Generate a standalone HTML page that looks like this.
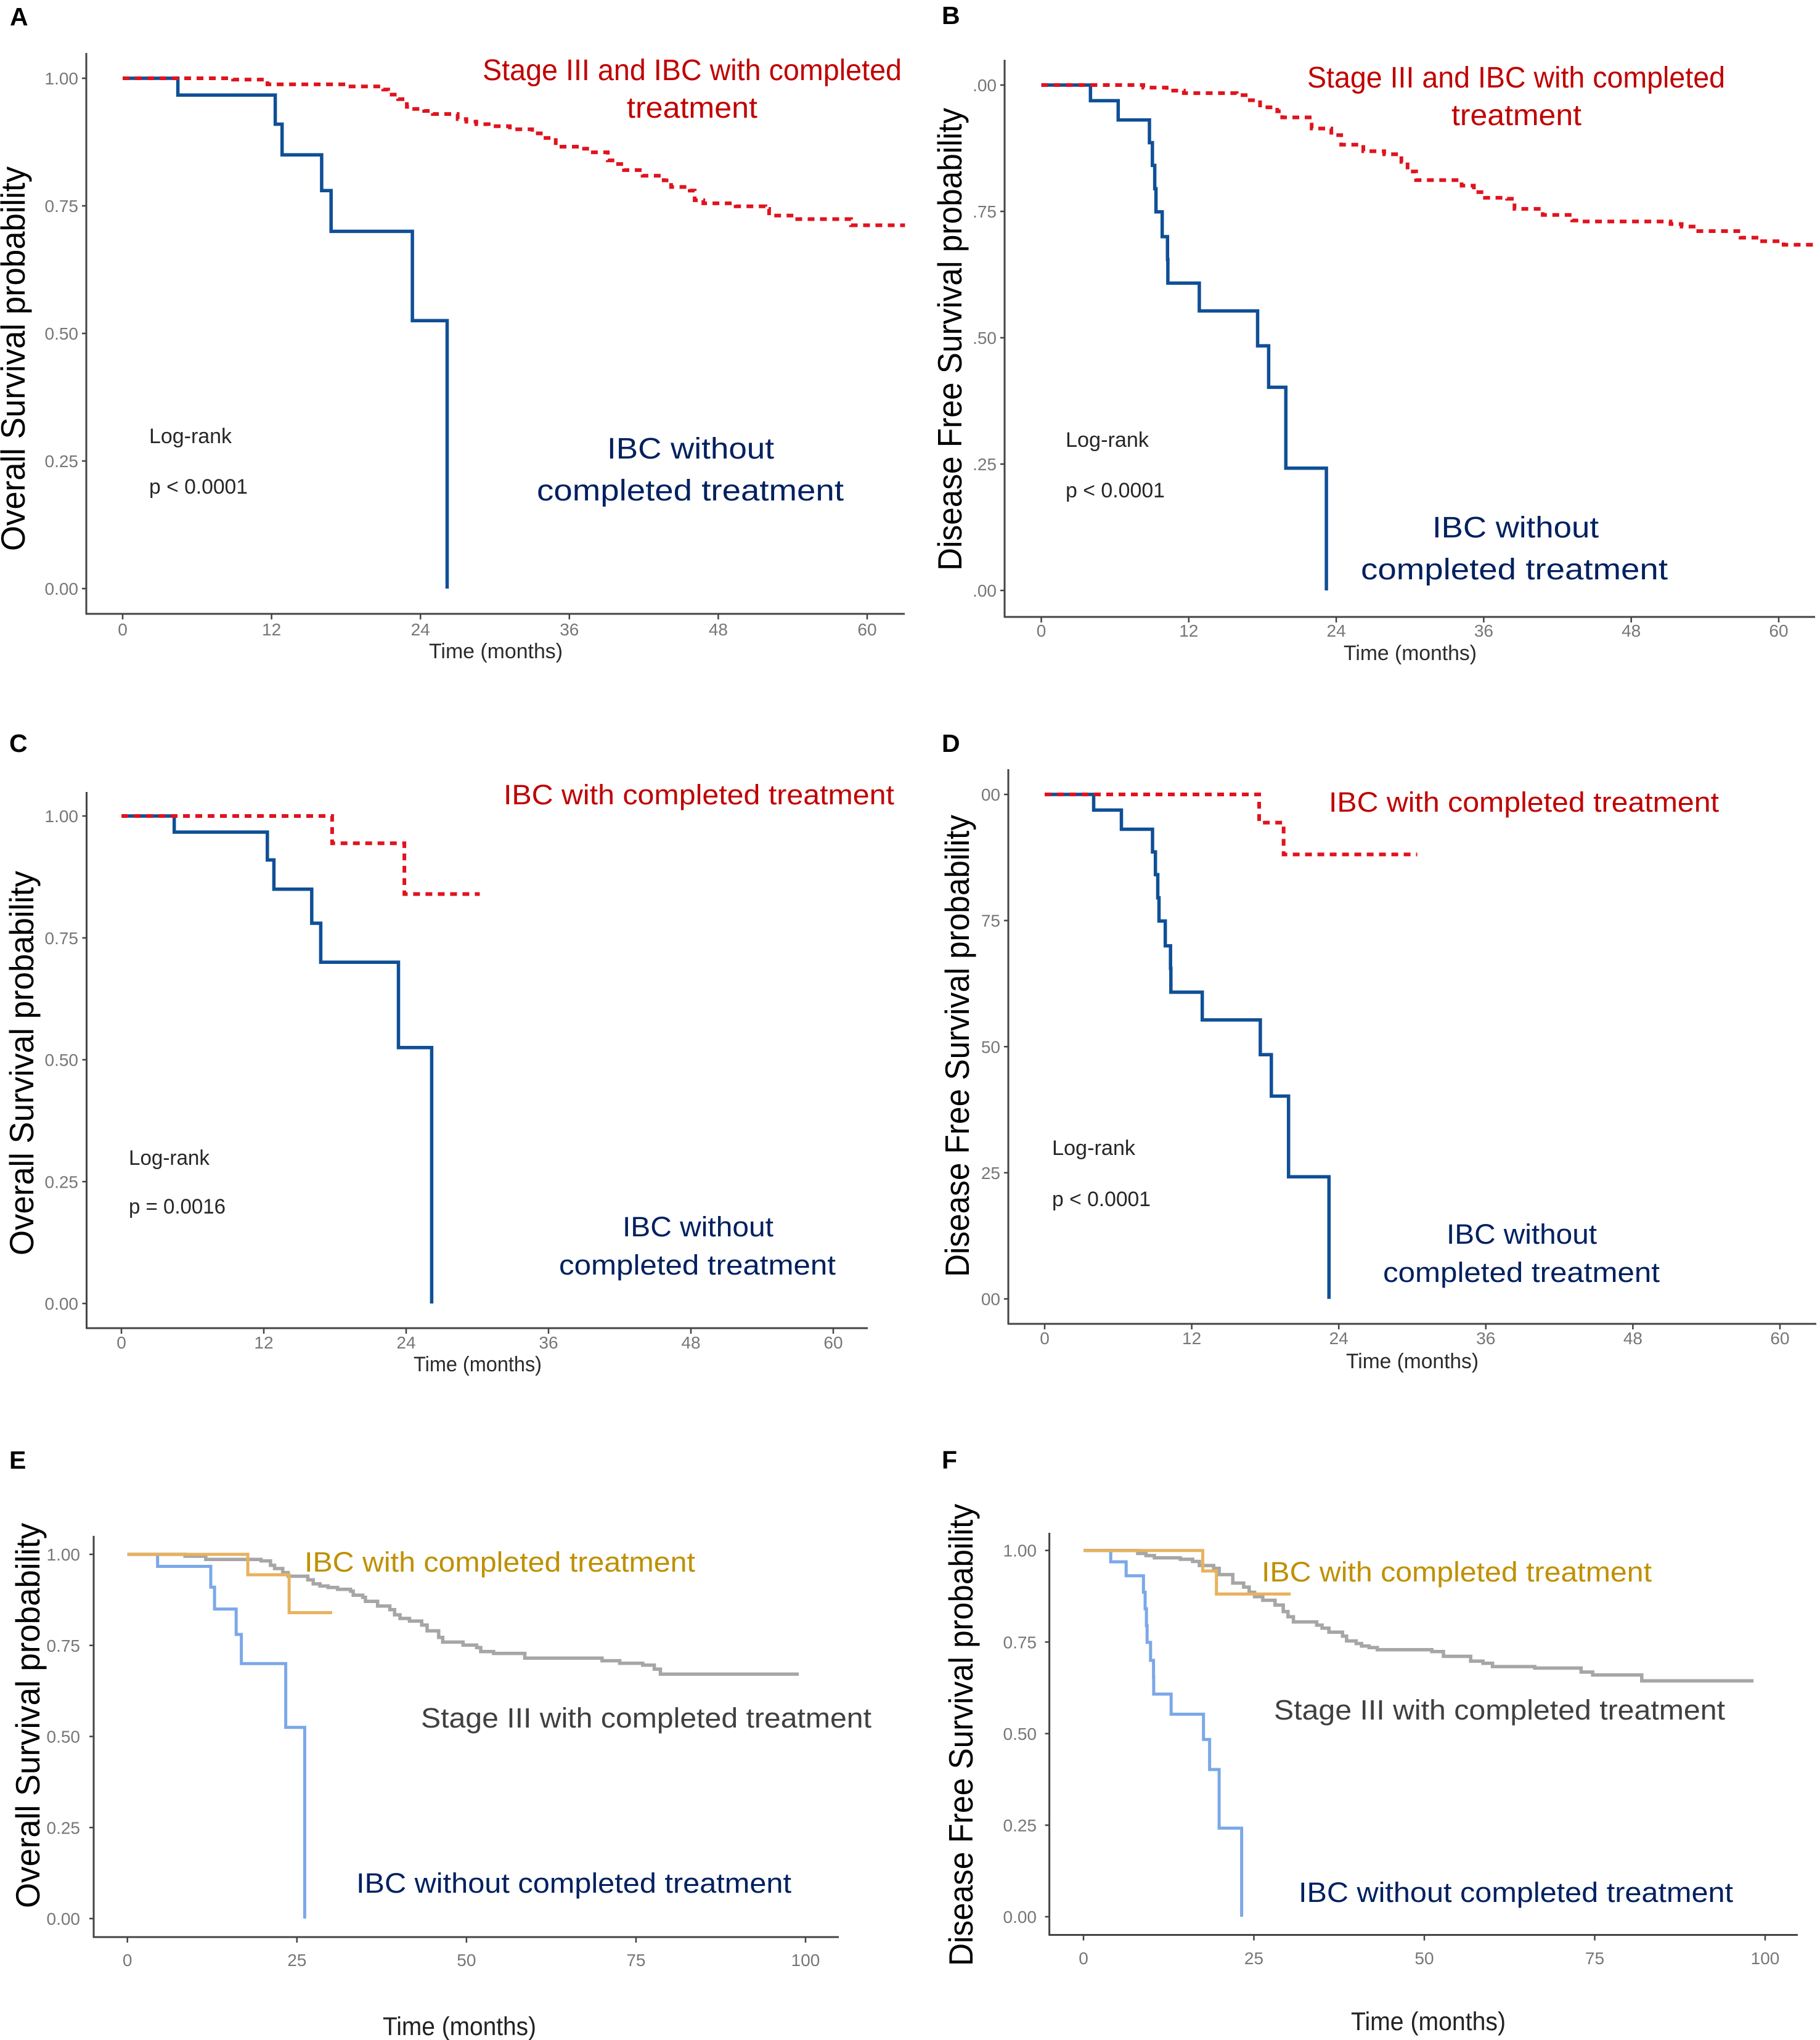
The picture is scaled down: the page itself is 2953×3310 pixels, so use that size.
<!DOCTYPE html>
<html lang="en">
<head>
<meta charset="utf-8">
<title>Kaplan-Meier survival curves, panels A to F</title>
<style>
html,body{margin:0;padding:0;background:#fff}
svg{display:block}
text{font-family:"Liberation Sans",sans-serif}
.letter{font-size:41px;font-weight:700;fill:#000}
.ytitle{font-size:55px;fill:#000}
.xtitle{font-size:34px;fill:#2b2b2b}
.xtitle-lg{font-size:42px;fill:#222}
.stat{font-size:34px;fill:#262626}
.big{font-size:48px}
.mid{font-size:45px}
.red{fill:#c00000}
.navy{fill:#002060}
.gold{fill:#bf9000}
.dark{fill:#404040}
</style>
</head>
<body>
<svg id="figure" xmlns="http://www.w3.org/2000/svg" width="2953" height="3310" viewBox="0 0 2953 3310">
<rect width="2953" height="3310" fill="#fff"/>

<g id="panel-a">
<text class="letter" x="16" y="41">A</text>
<text class="ytitle" transform="translate(40,894) rotate(-90)" textLength="624" lengthAdjust="spacingAndGlyphs">Overall Survival probability</text>
<text class="xtitle" x="696" y="1068" textLength="217" lengthAdjust="spacingAndGlyphs">Time (months)</text>
<text class="stat" x="242" y="719" textLength="134" lengthAdjust="spacingAndGlyphs">Log-rank</text>
<text class="stat" x="242" y="801" textLength="160" lengthAdjust="spacingAndGlyphs">p &lt; 0.0001</text>
<text class="big red" x="783" y="130" textLength="680" lengthAdjust="spacingAndGlyphs">Stage III and IBC with completed</text>
<text class="big red" x="1017" y="191" textLength="212" lengthAdjust="spacingAndGlyphs">treatment</text>
<text class="big navy" x="985" y="744" textLength="271" lengthAdjust="spacingAndGlyphs">IBC without</text>
<text class="big navy" x="871" y="812" textLength="498" lengthAdjust="spacingAndGlyphs">completed treatment</text>
</g>

<g id="panel-b">
<text class="letter" x="1528" y="39">B</text>
<text class="ytitle" transform="translate(1560,926) rotate(-90)" textLength="751" lengthAdjust="spacingAndGlyphs">Disease Free Survival probability</text>
<text class="xtitle" x="2180" y="1071" textLength="216" lengthAdjust="spacingAndGlyphs">Time (months)</text>
<text class="stat" x="1729" y="725" textLength="135" lengthAdjust="spacingAndGlyphs">Log-rank</text>
<text class="stat" x="1729" y="807" textLength="161" lengthAdjust="spacingAndGlyphs">p &lt; 0.0001</text>
<text class="big red" x="2121" y="142" textLength="678" lengthAdjust="spacingAndGlyphs">Stage III and IBC with completed</text>
<text class="big red" x="2355" y="203" textLength="211" lengthAdjust="spacingAndGlyphs">treatment</text>
<text class="big navy" x="2324" y="872" textLength="270" lengthAdjust="spacingAndGlyphs">IBC without</text>
<text class="big navy" x="2208" y="940" textLength="498" lengthAdjust="spacingAndGlyphs">completed treatment</text>
</g>

<g id="panel-c">
<text class="letter" x="15" y="1220">C</text>
<text class="ytitle" transform="translate(54,2037) rotate(-90)" textLength="624" lengthAdjust="spacingAndGlyphs">Overall Survival probability</text>
<text class="xtitle" x="671" y="2225" textLength="208" lengthAdjust="spacingAndGlyphs">Time (months)</text>
<text class="stat" x="209" y="1890" textLength="131" lengthAdjust="spacingAndGlyphs">Log-rank</text>
<text class="stat" x="209" y="1969" textLength="157" lengthAdjust="spacingAndGlyphs">p = 0.0016</text>
<text class="mid red" x="817" y="1305" textLength="634" lengthAdjust="spacingAndGlyphs">IBC with completed treatment</text>
<text class="mid navy" x="1010" y="2006" textLength="245" lengthAdjust="spacingAndGlyphs">IBC without</text>
<text class="mid navy" x="907" y="2068" textLength="449" lengthAdjust="spacingAndGlyphs">completed treatment</text>
</g>

<g id="panel-d">
<text class="letter" x="1528" y="1220">D</text>
<text class="ytitle" transform="translate(1572,2072) rotate(-90)" textLength="750" lengthAdjust="spacingAndGlyphs">Disease Free Survival probability</text>
<text class="xtitle" x="2184" y="2220" textLength="215" lengthAdjust="spacingAndGlyphs">Time (months)</text>
<text class="stat" x="1707" y="1874" textLength="135" lengthAdjust="spacingAndGlyphs">Log-rank</text>
<text class="stat" x="1707" y="1957" textLength="160" lengthAdjust="spacingAndGlyphs">p &lt; 0.0001</text>
<text class="mid red" x="2156" y="1317" textLength="633" lengthAdjust="spacingAndGlyphs">IBC with completed treatment</text>
<text class="mid navy" x="2347" y="2018" textLength="244" lengthAdjust="spacingAndGlyphs">IBC without</text>
<text class="mid navy" x="2244" y="2080" textLength="449" lengthAdjust="spacingAndGlyphs">completed treatment</text>
</g>

<g id="panel-e">
<text class="letter" x="15" y="2383">E</text>
<text class="ytitle" transform="translate(64,3096) rotate(-90)" textLength="625" lengthAdjust="spacingAndGlyphs">Overall Survival probability</text>
<text class="xtitle-lg" x="621" y="3302" textLength="249" lengthAdjust="spacingAndGlyphs">Time (months)</text>
<text class="mid gold" x="494" y="2550" textLength="634" lengthAdjust="spacingAndGlyphs">IBC with completed treatment</text>
<text class="mid dark" x="683" y="2803" textLength="731" lengthAdjust="spacingAndGlyphs">Stage III with completed treatment</text>
<text class="mid navy" x="578" y="3071" textLength="706" lengthAdjust="spacingAndGlyphs">IBC without completed treatment</text>
</g>

<g id="panel-f">
<text class="letter" x="1528" y="2383">F</text>
<text class="ytitle" transform="translate(1578,3190) rotate(-90)" textLength="750" lengthAdjust="spacingAndGlyphs">Disease Free Survival probability</text>
<text class="xtitle-lg" x="2192" y="3294" textLength="251" lengthAdjust="spacingAndGlyphs">Time (months)</text>
<text class="mid gold" x="2047" y="2566" textLength="633" lengthAdjust="spacingAndGlyphs">IBC with completed treatment</text>
<text class="mid dark" x="2067" y="2790" textLength="732" lengthAdjust="spacingAndGlyphs">Stage III with completed treatment</text>
<text class="mid navy" x="2107" y="3086" textLength="705" lengthAdjust="spacingAndGlyphs">IBC without completed treatment</text>
</g>
</svg>

<script>
// Tick values and printed labels
const monthTicks12 = [0, 12, 24, 36, 48, 60];
const monthTickLabels12 = ['0', '12', '24', '36', '48', '60'];
const monthTicks25 = [0, 25, 50, 75, 100];
const monthTickLabels25 = ['0', '25', '50', '75', '100'];
const survivalTicks = [0, 0.25, 0.5, 0.75, 1];
const survivalLabelsFull = ['0.00', '0.25', '0.50', '0.75', '1.00'];
const survivalLabelsCropB = ['.00', '.25', '.50', '.75', '.00'];
const survivalLabelsCropD = ['00', '25', '50', '75', '00'];

// IBC without completed treatment (overall survival, A C E)
const withoutOsMonths = [4.45, 12.3, 12.85, 16.04, 16.8, 23.35, 26.15];
const withoutOsSurvival = [0.967, 0.91, 0.85, 0.78, 0.70, 0.525, 0];

// IBC without completed treatment (disease free survival, B D F)
const withoutDfsMonths = [4.0, 6.26, 8.8, 9.04, 9.23, 9.33, 9.84, 10.27, 10.3, 12.86, 17.6, 18.5, 19.9, 23.2];
const withoutDfsSurvival = [0.969, 0.931, 0.886, 0.841, 0.795, 0.749, 0.70, 0.655, 0.608, 0.553, 0.484, 0.402, 0.242, 0];

// Panel A: Stage III and IBC with completed treatment
const combinedOsMonths = [8.9, 11.67, 18.0, 21.0, 21.4, 22.2, 22.9, 23.5, 24.3, 25.0, 27.0, 27.7, 28.5, 29.5, 31.2, 33, 33.7, 34.9, 37, 37.7, 39.1, 39.7, 40.4, 41.9, 43.6, 44.2, 45.7, 46.1, 46.8, 49.4, 51.8, 52.1, 53.9, 58.7, 63.05];
const combinedOsSurvival = [0.9975, 0.988, 0.984, 0.978, 0.968, 0.959, 0.944, 0.94, 0.936, 0.93, 0.92, 0.915, 0.91, 0.906, 0.90, 0.892, 0.883, 0.866, 0.862, 0.855, 0.839, 0.832, 0.82, 0.809, 0.80, 0.787, 0.78, 0.761, 0.755, 0.749, 0.744, 0.731, 0.724, 0.712, 0.712];

// Panel B: Stage III and IBC with completed treatment
const combinedDfsMonths = [8.3, 10.2, 11.6, 15.9, 16.8, 17.8, 19.2, 19.6, 22, 23.6, 24.4, 26.2, 27.9, 29.3, 29.8, 30.5, 34.2, 35.2, 36.1, 37.9, 38.5, 40.8, 43.2, 43.7, 51.2, 52.1, 53.3, 56.9, 58.5, 60.4, 63];
const combinedDfsSurvival = [0.995, 0.989, 0.984, 0.98, 0.97, 0.956, 0.948, 0.936, 0.914, 0.901, 0.882, 0.869, 0.863, 0.848, 0.829, 0.812, 0.801, 0.788, 0.777, 0.775, 0.755, 0.743, 0.732, 0.73, 0.725, 0.72, 0.711, 0.698, 0.691, 0.684, 0.684];

// IBC with completed treatment
const ibcOsMonths = [17.76, 23.85, 30.2];
const ibcOsSurvival = [0.944, 0.84, 0.84];
const ibcDfsMonths = [17.5, 19.5, 30.4];
const ibcDfsSurvival = [0.944, 0.881, 0.881];

// Stage III with completed treatment
const stageOsMonths = [8.5, 11.56, 19.7, 21.1, 21.7, 22.9, 23.7, 26.6, 27.4, 28.4, 29.6, 31.0, 32.9, 33.3, 34.7, 35.1, 36.9, 38.7, 39.4, 40.2, 41.6, 43.4, 44.2, 45.9, 46.5, 49.5, 51.5, 52.1, 54, 58.6, 70, 72.6, 76, 77.7, 78.6, 99];
const stageOsSurvival = [0.995, 0.986, 0.982, 0.97, 0.961, 0.95, 0.94, 0.93, 0.919, 0.913, 0.909, 0.904, 0.899, 0.888, 0.882, 0.871, 0.858, 0.848, 0.834, 0.824, 0.817, 0.806, 0.79, 0.772, 0.759, 0.751, 0.744, 0.733, 0.728, 0.715, 0.708, 0.701, 0.696, 0.685, 0.671, 0.671];
const stageDfsMonths = [7.96, 9.17, 10.4, 14.2, 16.0, 17.0, 19.1, 19.9, 21.9, 23.5, 24.3, 25.1, 26.3, 28.1, 29.3, 30, 30.8, 34.2, 35, 36, 38, 38.6, 40, 40.8, 41.9, 43.1, 51.1, 52.8, 56.8, 58.6, 60, 66.2, 73, 74.7, 81.9, 98.3];
const stageDfsSurvival = [0.992, 0.986, 0.98, 0.976, 0.97, 0.959, 0.951, 0.934, 0.911, 0.90, 0.886, 0.874, 0.864, 0.851, 0.833, 0.819, 0.805, 0.796, 0.788, 0.777, 0.766, 0.753, 0.746, 0.739, 0.735, 0.729, 0.724, 0.711, 0.698, 0.692, 0.683, 0.679, 0.668, 0.66, 0.644, 0.644];

// Panel geometry (separate from data)
const layoutA = {id:'panel-a', axisX:140, axisY:996, top:86, right:1468, x0:199, xRef:1407, tRef:60, y1:127, y0:955, xLabelY:1031, yLabelX:127};
const layoutB = {id:'panel-b', axisX:1630, axisY:1001, top:97, right:2945, x0:1689.5, xRef:2886, tRef:60, y1:138, y0:958, xLabelY:1033, yLabelX:1617};
const layoutC = {id:'panel-c', axisX:140.5, axisY:2155, top:1285, right:1408, x0:197, xRef:1352, tRef:60, y1:1324, y0:2115, xLabelY:2188, yLabelX:127};
const layoutD = {id:'panel-d', axisX:1636, axisY:2148, top:1248, right:2947, x0:1695, xRef:2888, tRef:60, y1:1289, y0:2107.5, xLabelY:2181, yLabelX:1623};
const layoutE = {id:'panel-e', axisX:152, axisY:3143, top:2492, right:1361, x0:206.7, xRef:1307, tRef:100, y1:2522, y0:3113, xLabelY:3190, yLabelX:130};
const layoutF = {id:'panel-f', axisX:1702.6, axisY:3139.5, top:2487, right:2917, x0:1758, xRef:2864, tRef:100, y1:2515.7, y0:3110, xLabelY:3187, yLabelX:1682};

const NS = 'http://www.w3.org/2000/svg';

function xScale(p, months) {
  return p.x0 + months * (p.xRef - p.x0) / p.tRef;
}
function yScale(p, survival) {
  return p.y0 - survival * (p.y0 - p.y1);
}

function drawAxes(p, xTicks, xLabels, yTicks, yLabels) {
  const g = document.getElementById(p.id);

  const yLine = document.createElementNS(NS, 'line');
  
  
  yLine.setAttribute('x1', p.axisX);
  yLine.setAttribute('x2', p.axisX);
  yLine.setAttribute('y1', p.top);
  yLine.setAttribute('y2', p.axisY + 1);
  yLine.setAttribute('stroke', '#444');
  yLine.setAttribute('stroke-width', '3');
  g.appendChild(yLine);

  const xLine = document.createElementNS(NS, 'line');
  
  
  xLine.setAttribute('x1', p.axisX - 1);
  xLine.setAttribute('x2', p.right);
  xLine.setAttribute('y1', p.axisY);
  xLine.setAttribute('y2', p.axisY);
  xLine.setAttribute('stroke', '#444');
  xLine.setAttribute('stroke-width', '3');
  g.appendChild(xLine);

  xTicks.forEach(function (t, i) {
    const tick = document.createElementNS(NS, 'line');
    
    
    tick.setAttribute('x1', xScale(p, t));
    tick.setAttribute('x2', xScale(p, t));
    tick.setAttribute('y1', p.axisY);
    tick.setAttribute('y2', p.axisY + 9);
    tick.setAttribute('stroke', '#444');
    tick.setAttribute('stroke-width', '2.5');
    g.appendChild(tick);

    const label = document.createElementNS(NS, 'text');
    
    
    label.setAttribute('x', xScale(p, t));
    label.setAttribute('y', p.xLabelY);
    label.setAttribute('text-anchor', 'middle');
    label.setAttribute('font-size', '28');
    label.setAttribute('fill', '#777');
    label.textContent = xLabels[i];
    g.appendChild(label);
  });

  yTicks.forEach(function (s, i) {
    const tick = document.createElementNS(NS, 'line');
    
    
    tick.setAttribute('x1', p.axisX - 7);
    tick.setAttribute('x2', p.axisX);
    tick.setAttribute('y1', yScale(p, s));
    tick.setAttribute('y2', yScale(p, s));
    tick.setAttribute('stroke', '#444');
    tick.setAttribute('stroke-width', '2.5');
    g.appendChild(tick);

    const label = document.createElementNS(NS, 'text');
    
    
    label.setAttribute('x', p.yLabelX);
    label.setAttribute('y', yScale(p, s) + 10);
    label.setAttribute('text-anchor', 'end');
    label.setAttribute('font-size', '28');
    label.setAttribute('fill', '#777');
    label.textContent = yLabels[i];
    g.appendChild(label);
  });
}

function stepPath(p, months, survival) {
  let d = 'M' + xScale(p, 0) + ' ' + yScale(p, 1);
  months.forEach(function (t, i) {
    d += 'H' + xScale(p, t).toFixed(1) + 'V' + yScale(p, survival[i]).toFixed(1);
  });
  return d;
}

function drawWithout(p, months, survival, color, width) {
  const path = document.createElementNS(NS, 'path');
  
  
  path.setAttribute('d', stepPath(p, months, survival));
  path.setAttribute('fill', 'none');
  path.setAttribute('stroke', color);
  path.setAttribute('stroke-width', width);
  document.getElementById(p.id).appendChild(path);
}

function drawCompletedDashed(p, months, survival) {
  const path = document.createElementNS(NS, 'path');
  
  
  path.setAttribute('d', stepPath(p, months, survival));
  path.setAttribute('fill', 'none');
  path.setAttribute('stroke', '#e0131f');
  path.setAttribute('stroke-width', '6');
  path.setAttribute('stroke-dasharray', '11 9');
  document.getElementById(p.id).appendChild(path);
}

function drawStage(p, months, survival) {
  const path = document.createElementNS(NS, 'path');
  
  
  path.setAttribute('d', stepPath(p, months, survival));
  path.setAttribute('fill', 'none');
  path.setAttribute('stroke', '#a6a6a6');
  path.setAttribute('stroke-width', '5.5');
  document.getElementById(p.id).appendChild(path);
}

function drawIbcSolid(p, months, survival) {
  const path = document.createElementNS(NS, 'path');
  
  
  path.setAttribute('d', stepPath(p, months, survival));
  path.setAttribute('fill', 'none');
  path.setAttribute('stroke', '#e8b25e');
  path.setAttribute('stroke-width', '5');
  document.getElementById(p.id).appendChild(path);
}

const navyLine = '#0f4f96';
const lightLine = '#7ba8e8';

drawAxes(layoutA, monthTicks12, monthTickLabels12, survivalTicks, survivalLabelsFull);
drawWithout(layoutA, withoutOsMonths, withoutOsSurvival, navyLine, 5.5);
drawCompletedDashed(layoutA, combinedOsMonths, combinedOsSurvival);

drawAxes(layoutB, monthTicks12, monthTickLabels12, survivalTicks, survivalLabelsCropB);
drawWithout(layoutB, withoutDfsMonths, withoutDfsSurvival, navyLine, 5.5);
drawCompletedDashed(layoutB, combinedDfsMonths, combinedDfsSurvival);

drawAxes(layoutC, monthTicks12, monthTickLabels12, survivalTicks, survivalLabelsFull);
drawWithout(layoutC, withoutOsMonths, withoutOsSurvival, navyLine, 5.5);
drawCompletedDashed(layoutC, ibcOsMonths, ibcOsSurvival);

drawAxes(layoutD, monthTicks12, monthTickLabels12, survivalTicks, survivalLabelsCropD);
drawWithout(layoutD, withoutDfsMonths, withoutDfsSurvival, navyLine, 5.5);
drawCompletedDashed(layoutD, ibcDfsMonths, ibcDfsSurvival);

drawAxes(layoutE, monthTicks25, monthTickLabels25, survivalTicks, survivalLabelsFull);
drawStage(layoutE, stageOsMonths, stageOsSurvival);
drawWithout(layoutE, withoutOsMonths, withoutOsSurvival, lightLine, 5);
drawIbcSolid(layoutE, ibcOsMonths, ibcOsSurvival);

drawAxes(layoutF, monthTicks25, monthTickLabels25, survivalTicks, survivalLabelsFull);
drawStage(layoutF, stageDfsMonths, stageDfsSurvival);
drawWithout(layoutF, withoutDfsMonths, withoutDfsSurvival, lightLine, 5);
drawIbcSolid(layoutF, ibcDfsMonths, ibcDfsSurvival);
</script>
</body>
</html>
